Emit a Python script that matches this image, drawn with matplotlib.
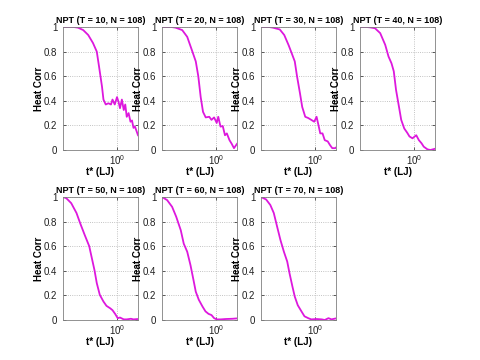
import numpy as np
import matplotlib
matplotlib.use("Agg")
import matplotlib.pyplot as plt
from matplotlib.ticker import NullLocator, FixedLocator

plt.rcParams['font.family'] = ['Liberation Sans', 'DejaVu Sans']

temps = [10, 20, 30, 40, 50, 60, 70]
n_atoms = 108

# heat autocorrelation (t in LJ units)
t_10 = [0.16, 0.23, 0.265, 0.316, 0.374, 0.439, 0.499, 0.538, 0.595, 0.625, 0.675, 0.738, 0.805,
        0.847, 0.914, 0.986, 1.04, 1.09, 1.162, 1.238, 1.302, 1.369, 1.458, 1.553, 1.634,
        1.718, 1.807, 2.0]
c_10 = [1.0, 1.0, 0.995, 0.975, 0.935, 0.87, 0.80, 0.68, 0.515, 0.41, 0.37, 0.38, 0.37,
        0.41, 0.37, 0.43, 0.39, 0.34, 0.41, 0.325, 0.37, 0.27, 0.30, 0.23, 0.24,
        0.18, 0.19, 0.12]

t_20 = [0.16, 0.22, 0.252, 0.316, 0.374, 0.439, 0.499, 0.543, 0.589, 0.637, 0.697, 0.785, 0.847,
        0.925, 1.01, 1.064, 1.148, 1.238, 1.334, 1.421, 1.553, 1.675, 1.807, 2.0]
c_20 = [1.0, 1.0, 0.995, 0.975, 0.92, 0.81, 0.72, 0.60, 0.43, 0.31, 0.265, 0.27, 0.245,
        0.265, 0.22, 0.27, 0.19, 0.195, 0.12, 0.135, 0.08, 0.05, 0.015, 0.05]

t_30 = [0.16, 0.21, 0.238, 0.301, 0.350, 0.407, 0.451, 0.499, 0.538, 0.595, 0.641, 0.710, 0.785,
        0.869, 0.961, 1.04, 1.09, 1.177, 1.27, 1.369, 1.514, 1.634, 1.762, 1.95, 2.0]
c_30 = [1.0, 1.0, 0.995, 0.98, 0.935, 0.85, 0.785, 0.72, 0.60, 0.46, 0.35, 0.27, 0.26,
        0.245, 0.23, 0.27, 0.22, 0.135, 0.135, 0.08, 0.07, 0.04, 0.015, 0.015, 0.02]

t_40 = [0.16, 0.2, 0.225, 0.265, 0.316, 0.374, 0.418, 0.462, 0.499, 0.538, 0.595, 0.641, 0.710,
        0.785, 0.847, 0.937, 1.01, 1.064, 1.162, 1.27, 1.369, 1.553, 1.718, 2.0]
c_40 = [1.0, 1.0, 0.997, 0.99, 0.95, 0.855, 0.76, 0.705, 0.64, 0.49, 0.35, 0.245, 0.175,
        0.14, 0.11, 0.095, 0.11, 0.12, 0.08, 0.055, 0.027, 0.005, 0.0, 0.01]

t_50 = [0.16, 0.179, 0.211, 0.252, 0.286, 0.333, 0.387, 0.418, 0.462, 0.499, 0.552, 0.625,
        0.692, 0.785, 0.847, 0.925, 1.01, 1.09, 1.238, 1.369, 1.573, 1.718, 2.0]
c_50 = [1.0, 0.99, 0.95, 0.87, 0.785, 0.69, 0.60, 0.515, 0.405, 0.30, 0.205, 0.15,
        0.115, 0.095, 0.08, 0.05, 0.015, 0.02, 0.005, 0.005, 0.01, 0.005, 0.008]

t_60 = [0.16, 0.19, 0.225, 0.258, 0.301, 0.333, 0.374, 0.418, 0.462, 0.499, 0.552, 0.625,
        0.692, 0.766, 0.847, 0.925, 1.01, 1.162, 1.369, 1.718, 2.0]
c_60 = [1.0, 0.975, 0.92, 0.84, 0.73, 0.62, 0.555, 0.445, 0.325, 0.23, 0.165, 0.11,
        0.07, 0.05, 0.04, 0.015, 0.005, 0.005, 0.008, 0.01, 0.013]

t_70 = [0.16, 0.19, 0.219, 0.246, 0.275, 0.308, 0.346, 0.387, 0.418, 0.462, 0.499, 0.552,
        0.625, 0.692, 0.785, 0.869, 1.04, 1.238, 1.369, 1.553, 1.718, 2.0]
c_70 = [1.0, 0.98, 0.935, 0.87, 0.76, 0.65, 0.555, 0.475, 0.38, 0.27, 0.19, 0.12,
        0.07, 0.03, 0.015, 0.005, 0.008, 0.005, 0.0, 0.015, 0.005, 0.013]

series = [(t_10, c_10), (t_20, c_20), (t_30, c_30), (t_40, c_40),
          (t_50, c_50), (t_60, c_60), (t_70, c_70)]

fig = plt.figure(figsize=(4.8, 3.6), dpi=100)

W, H = 480.0, 360.0
col_left = [63, 162, 261, 360]
row_top = [27, 197]
ax_w, ax_h = 75, 123

for i, (T, (t, c)) in enumerate(zip(temps, series)):
    r, k = divmod(i, 4)
    left = col_left[k] / W
    bottom = 1 - (row_top[r] + ax_h) / H
    ax = fig.add_axes([left, bottom, ax_w / W, ax_h / H])
    ax.plot(t, c, color='#dd18dd', lw=1.3)
    ax.set_xscale('log')
    ax.set_xlim(0.16, 2.0)
    ax.set_ylim(0, 1)
    ax.xaxis.set_major_locator(FixedLocator([1.0]))
    ax.xaxis.set_minor_locator(NullLocator())
    ax.set_yticks([0, 0.2, 0.4, 0.6, 0.8, 1])
    ax.set_yticklabels(['0', '0.2', '0.4', '0.6', '0.8', '1'])
    ax.grid(True, linestyle=':', color='#b0b0b0', lw=0.6)
    ax.tick_params(direction='in', top=True, right=True, length=2, width=0.5,
                   labelsize=7, colors='#202020')
    ax.tick_params(axis='y', pad=4)
    ax.tick_params(axis='x', pad=2)
    for s in ax.spines.values():
        s.set_color('#808080')
        s.set_linewidth(0.6)
    ax.set_title(f'NPT (T = {T}, N = {n_atoms})', fontsize=6.5, fontweight='bold', pad=3)
    ax.set_xlabel('t* (LJ)', fontsize=7, fontweight='bold', labelpad=0)
    ax.set_ylabel('Heat Corr', fontsize=7, fontweight='bold', labelpad=0)

fig.savefig('out.png', dpi=100)
